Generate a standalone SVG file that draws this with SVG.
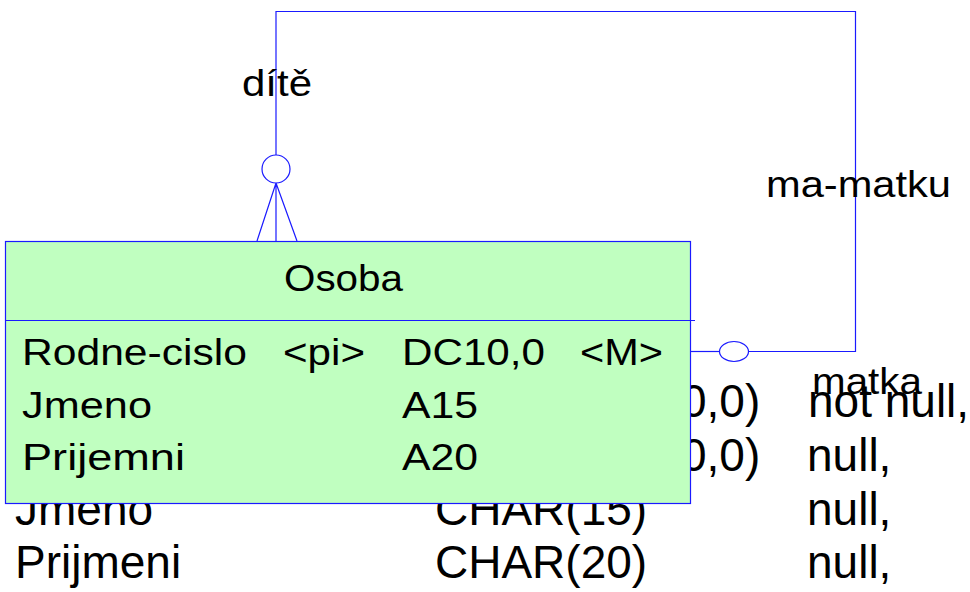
<svg xmlns="http://www.w3.org/2000/svg" width="970" height="592" viewBox="0 0 970 592">
<style>
.bg{font-family:"Liberation Sans",Arial,sans-serif;font-size:46px;fill:#000}
.t{font-family:"Liberation Sans",Arial,sans-serif;font-size:36px;fill:#000}
.ln{stroke:#1a1aff;stroke-width:1.2;fill:none}
</style>
<rect width="970" height="592" fill="#fff"/>
<g id="background-table">
<text class="bg" x="681" y="417">0,0)</text>
<text class="bg" x="808" y="417">not null,</text>
<text class="bg" x="681" y="471">0,0)</text>
<text class="bg" x="807" y="471">null,</text>
<text class="bg" x="15" y="525">Jmeno</text>
<text class="bg" x="435" y="525">CHAR(15)</text>
<text class="bg" x="807" y="525">null,</text>
<text class="bg" x="15" y="578">Prijmeni</text>
<text class="bg" x="435" y="578">CHAR(20)</text>
<text class="bg" x="807" y="578">null,</text>
</g>
<g id="connectors">
<path class="ln" d="M276,155 V11.5 H855.5 V351.5 H748.5"/>
<path class="ln" d="M719.5,351.5 H690"/>
<ellipse class="ln" cx="734" cy="351.5" rx="14.5" ry="10"/>
<circle class="ln" cx="276" cy="169" r="14"/>
<path class="ln" d="M276,183 V241 M276,183 L257,241 M276,183 L297,241"/>
<text class="t" x="242" y="96" textLength="70" lengthAdjust="spacingAndGlyphs">dítě</text>
<text class="t" x="766" y="197" textLength="185" lengthAdjust="spacingAndGlyphs">ma-matku</text>
<text class="t" x="812" y="394" textLength="110" lengthAdjust="spacingAndGlyphs">matka</text>
</g>
<g id="Osoba">
<rect x="5.5" y="241.5" width="685" height="262" fill="#c0ffc0" stroke="#1a1aff" stroke-width="1.2"/>
<path class="ln" d="M5.5,320.5 H695"/>
<text class="t" x="284" y="291" textLength="119" lengthAdjust="spacingAndGlyphs">Osoba</text>
<text class="t" x="22" y="365" textLength="225" lengthAdjust="spacingAndGlyphs">Rodne-cislo</text>
<text class="t" x="283" y="365" textLength="82" lengthAdjust="spacingAndGlyphs">&lt;pi&gt;</text>
<text class="t" x="402" y="365" textLength="143" lengthAdjust="spacingAndGlyphs">DC10,0</text>
<text class="t" x="580" y="365" textLength="83" lengthAdjust="spacingAndGlyphs">&lt;M&gt;</text>
<text class="t" x="22" y="418" textLength="130" lengthAdjust="spacingAndGlyphs">Jmeno</text>
<text class="t" x="402" y="418" textLength="76" lengthAdjust="spacingAndGlyphs">A15</text>
<text class="t" x="22" y="470" textLength="163" lengthAdjust="spacingAndGlyphs">Prijemni</text>
<text class="t" x="402" y="470" textLength="76" lengthAdjust="spacingAndGlyphs">A20</text>
</g>
</svg>
